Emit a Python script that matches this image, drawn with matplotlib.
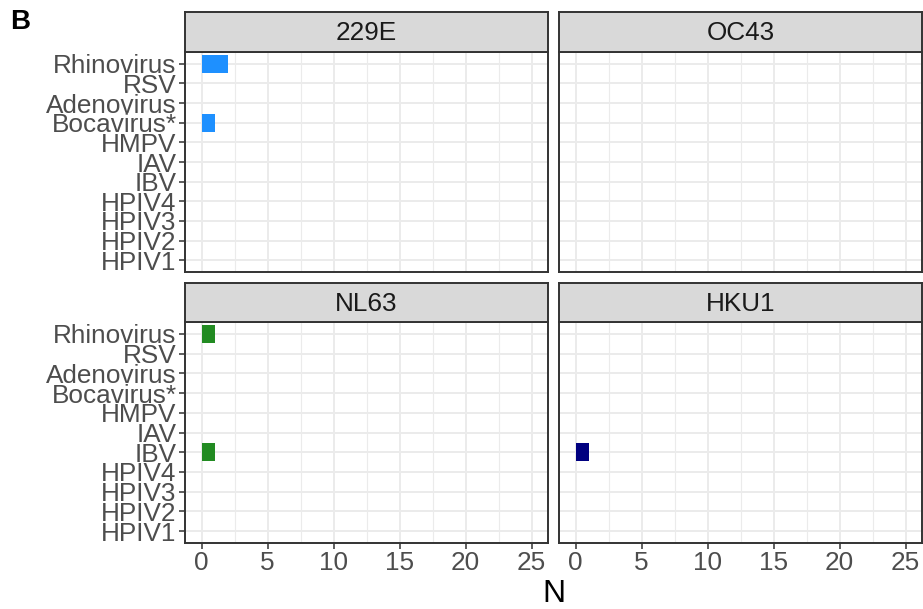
import numpy as np
import matplotlib.pyplot as plt

plt.rcParams["font.family"] = ["Liberation Sans", "DejaVu Sans"]

viruses = ["Rhinovirus", "RSV", "Adenovirus", "Bocavirus*", "HMPV",
           "IAV", "IBV", "HPIV4", "HPIV3", "HPIV2", "HPIV1"]

# co-detections per seasonal coronavirus
n_229e = [2, 0, 0, 1, 0, 0, 0, 0, 0, 0, 0]
n_oc43 = [0, 0, 0, 0, 0, 0, 0, 0, 0, 0, 0]
n_nl63 = [1, 0, 0, 0, 0, 0, 1, 0, 0, 0, 0]
n_hku1 = [0, 0, 0, 0, 0, 0, 1, 0, 0, 0, 0]

facets = ["229E", "OC43", "NL63", "HKU1"]
counts = [n_229e, n_oc43, n_nl63, n_hku1]
colors = ["#1E90FF", "#4D4D4D", "#228B22", "#000080"]
x_ticks = [0, 5, 10, 15, 20, 25]

W, H = 923, 609
fig = plt.figure(figsize=(W / 100, H / 100), dpi=100)

# panel boxes in pixels: (left, top, right, bottom)
cols = [(185, 548), (559, 922)]
rows = [(52, 272, 12), (322, 543, 283)]

dark = "#333333"
grid = "#EBEBEB"
y = np.arange(len(viruses))

for i, (name, vals, col) in enumerate(zip(facets, counts, colors)):
    r, c = divmod(i, 2)
    x0, x1 = cols[c]
    top, bot, strip_top = rows[r]
    ax = fig.add_axes([x0 / W, 1 - bot / H, (x1 - x0) / W, (bot - top) / H])
    ax.barh(y, vals, height=0.9, left=0, color=col, zorder=3)
    ax.set_xlim(-1.25, 26.25)
    ax.set_ylim(len(viruses) - 0.4, -0.6)

    ax.set_xticks(x_ticks)
    ax.set_xticks(np.arange(2.5, 25, 5), minor=True)
    ax.set_yticks(y)
    ax.grid(which="major", color=grid, linewidth=1.4, zorder=0)
    ax.grid(which="minor", axis="x", color=grid, linewidth=0.8, zorder=0)
    ax.set_axisbelow(True)
    ax.tick_params(which="minor", length=0)
    ax.tick_params(which="major", color=dark, length=4, width=1.1,
                   labelcolor="#4D4D4D", labelsize=18.8, pad=2)

    if c == 0:
        ax.set_yticklabels(viruses)
    else:
        ax.tick_params(axis="y", length=0, labelleft=False)
    if r == 1:
        ax.set_xticklabels([str(t) for t in x_ticks])
    else:
        ax.tick_params(axis="x", length=0, labelbottom=False)

    for s in ax.spines.values():
        s.set_color(dark)
        s.set_linewidth(1.4)

    # facet strip
    sax = fig.add_axes([x0 / W, 1 - top / H, (x1 - x0) / W, (top - strip_top) / H])
    sax.set_facecolor("#D9D9D9")
    sax.set_xticks([])
    sax.set_yticks([])
    for s in sax.spines.values():
        s.set_color(dark)
        s.set_linewidth(1.4)
    sax.text(0.5, 0.47, name, ha="center", va="center", fontsize=18.8,
             color="#1A1A1A", transform=sax.transAxes)

fig.text(553.5 / W, 1 - 594 / H, "N", ha="center", va="center",
         fontsize=23, color="black")
fig.text(10 / W, 1 - 22 / H, "B", ha="left", va="center",
         fontsize=20, fontweight="bold", color="black")

fig.savefig("out.png", dpi=100)
